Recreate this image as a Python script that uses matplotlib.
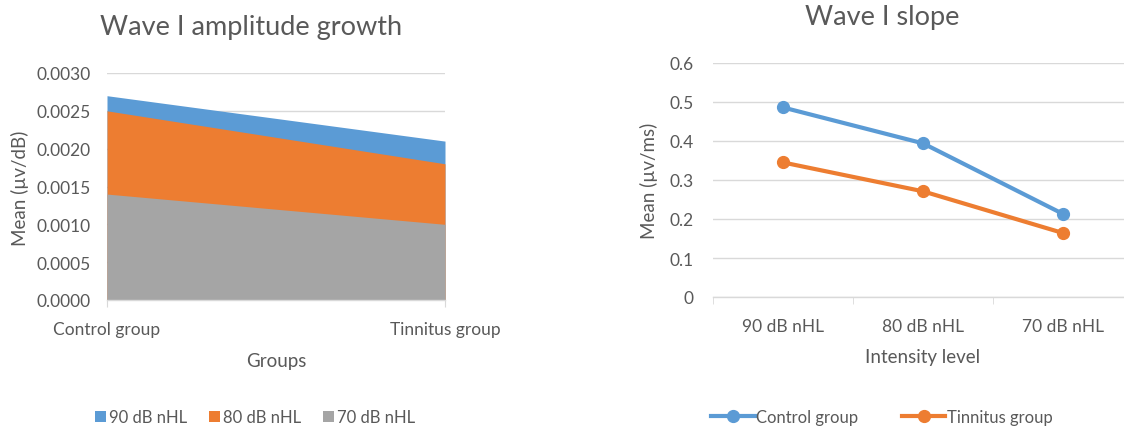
import matplotlib
matplotlib.use("Agg")
import matplotlib.pyplot as plt
from matplotlib.patches import Patch
from matplotlib.lines import Line2D

# --- data -------------------------------------------------------------
groups = ["Control group", "Tinnitus group"]
amp_levels = ["90 dB nHL", "80 dB nHL", "70 dB nHL"]
amp_90 = [0.0027, 0.0021]
amp_80 = [0.0025, 0.0018]
amp_70 = [0.0014, 0.0010]
amp_yticks = [0.0, 0.0005, 0.0010, 0.0015, 0.0020, 0.0025, 0.0030]

intensity = ["90 dB nHL", "80 dB nHL", "70 dB nHL"]
slope_control = [0.486, 0.394, 0.213]
slope_tinnitus = [0.345, 0.271, 0.164]
slope_yticks = [0, 0.1, 0.2, 0.3, 0.4, 0.5, 0.6]

# --- style ------------------------------------------------------------
BLUE = "#5B9BD5"
ORANGE = "#ED7D31"
GRAY = "#A5A5A5"
GRID = "#D9D9D9"
TXT = "#595959"
plt.rcParams["font.family"] = ["Lato", "DejaVu Sans"]

W, H = 1124, 427
fig = plt.figure(figsize=(W / 100, H / 100), dpi=100)


def px_axes(x0, y_top, x1, y_bot):
    return fig.add_axes([x0 / W, (H - y_bot) / H, (x1 - x0) / W, (y_bot - y_top) / H])


def style_axes(ax, ypad):
    for s in ("top", "right", "left"):
        ax.spines[s].set_visible(False)
    ax.spines["bottom"].set_color(GRID)
    ax.spines["bottom"].set_linewidth(1.0)
    ax.yaxis.grid(True, color=GRID, linewidth=1.0)
    ax.set_axisbelow(True)
    ax.tick_params(axis="y", length=0, labelsize=12.5, labelcolor=TXT, pad=ypad)


# --- left: overlapping area chart ------------------------------------
ax1 = px_axes(107, 74, 445, 301)
style_axes(ax1, 12)
xs = list(range(len(groups)))
for vals, col in ((amp_90, BLUE), (amp_80, ORANGE), (amp_70, GRAY)):
    ax1.fill_between(xs, 0, vals, color=col, linewidth=0, zorder=2)
ax1.set_xlim(0, len(groups) - 1)
ax1.set_ylim(0, 0.003)
ax1.set_yticks(amp_yticks)
ax1.set_yticklabels([f"{v:.4f}" for v in amp_yticks])
ax1.set_xticks(xs)
ax1.set_xticklabels(groups)
ax1.tick_params(axis="x", length=5, color=GRID, labelsize=12.5, labelcolor=TXT, pad=10)
for lbl in ax1.get_xticklabels():
    lbl.set_clip_on(False)

fig.text(251 / W, 1 - 28 / H, "Wave I amplitude growth", ha="center", va="center",
         fontsize=19.5, color=TXT)
fig.text(20 / W, 1 - 188 / H, "Mean (µv/dB)", ha="center", va="center",
         rotation=90, fontsize=13.5, color=TXT)
fig.text(276 / W, 1 - 361 / H, "Groups", ha="center", va="center",
         fontsize=13.5, color=TXT)

amp_handles = [Patch(facecolor=c, edgecolor="none") for c in (BLUE, ORANGE, GRAY)]
fig.legend(amp_handles, amp_levels, loc="center", bbox_to_anchor=(255 / W, 1 - 418 / H),
           ncol=3, frameon=False, fontsize=12, labelcolor=TXT, handlelength=0.65,
           handleheight=0.65, handletextpad=0.2, columnspacing=1.3, borderaxespad=0)

# --- right: line chart -------------------------------------------------
ax2 = px_axes(713, 64, 1133, 298)
style_axes(ax2, 14)
xi = list(range(len(intensity)))
ax2.plot(xi, slope_control, color=BLUE, linewidth=3, marker="o", markersize=8.5,
         solid_capstyle="round", zorder=3)
ax2.plot(xi, slope_tinnitus, color=ORANGE, linewidth=3, marker="o", markersize=8.5,
         solid_capstyle="round", zorder=3)
ax2.set_xlim(-0.5, len(intensity) - 0.5)
ax2.set_ylim(0, 0.6)
ax2.set_yticks(slope_yticks)
ax2.set_yticklabels(["0"] + [f"{v:.1f}" for v in slope_yticks[1:]])
ax2.set_xticks(xi)
ax2.set_xticklabels(intensity)
ax2.set_xticks([i - 0.5 for i in range(len(intensity) + 1)], minor=True)
ax2.tick_params(axis="x", which="major", length=0, labelsize=12.5, labelcolor=TXT, pad=15)
ax2.tick_params(axis="x", which="minor", length=5, color=GRID)

fig.text(882 / W, 1 - 18 / H, "Wave I slope", ha="center", va="center",
         fontsize=19.5, color=TXT)
fig.text(649 / W, 1 - 181 / H, "Mean (µv/ms)", ha="center", va="center",
         rotation=90, fontsize=13.5, color=TXT)
fig.text(923 / W, 1 - 358 / H, "Intensity level", ha="center", va="center",
         fontsize=13.5, color=TXT)

slope_handles = [Line2D([], [], color=c, linewidth=3, marker="o", markersize=8.5)
                 for c in (BLUE, ORANGE)]
fig.legend(slope_handles, groups, loc="center", bbox_to_anchor=(882 / W, 1 - 418 / H),
           ncol=2, frameon=False, fontsize=12, labelcolor=TXT, handlelength=2.6,
           handletextpad=0.1, columnspacing=2.6, borderaxespad=0)

fig.savefig("out.png", dpi=100)
